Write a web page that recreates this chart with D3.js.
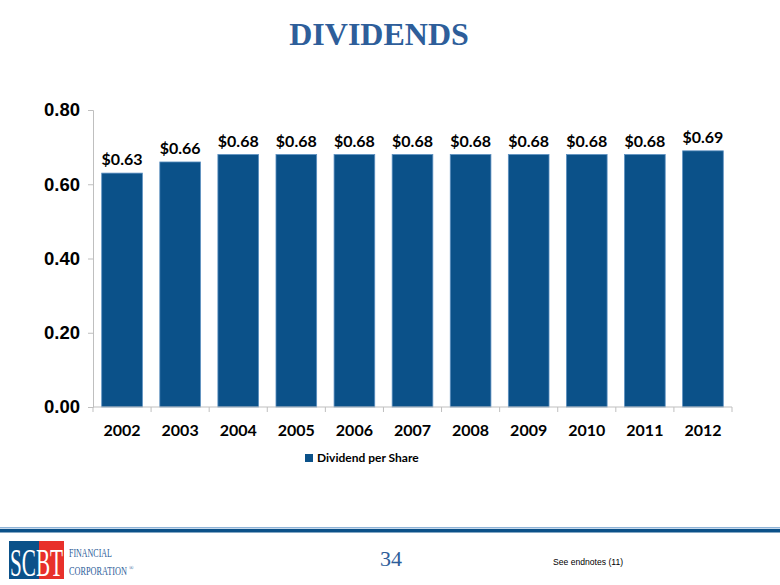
<!DOCTYPE html>
<html><head><meta charset="utf-8">
<script src="https://cdn.jsdelivr.net/npm/d3@7"></script>
<style>body{margin:0;background:#fff}svg{display:block}</style>
</head><body><svg id="c" width="780" height="585"></svg>
<script>
const years = ["2002","2003","2004","2005","2006","2007","2008","2009","2010","2011","2012"];
const dividends = [0.63,0.66,0.68,0.68,0.68,0.68,0.68,0.68,0.68,0.68,0.69];
const yTicks = [0,0.2,0.4,0.6,0.8];
const seriesName = "Dividend per Share";

const svg = d3.select("#c");
const barColor = "#0B5189";
const x = d3.scaleBand().domain(years).range([93,732]).paddingInner(0.3).paddingOuter(0.15);
const y = d3.scaleLinear().domain([0,0.8]).range([407,110]);

svg.append("text").attr("x",379).attr("y",45).attr("text-anchor","middle")
  .attr("font-family","Liberation Serif, serif").attr("font-weight","bold").attr("font-size",32)
  .attr("fill","#2E5E9A").text("DIVIDENDS");

// y axis
const ya = svg.append("g").attr("transform","translate(93,0)")
  .call(d3.axisLeft(y).tickValues(yTicks).tickFormat(d3.format(".2f")).tickSize(5).tickPadding(8));
ya.selectAll("path,line").attr("stroke","#bfbfbf");
ya.selectAll("text").attr("font-family","Liberation Sans, Arial").attr("font-weight","bold").attr("font-size",18.5).attr("fill","#000");

// bars
svg.selectAll("rect.bar").data(dividends).join("rect").attr("class","bar")
  .attr("x",(d,i)=>x(years[i])).attr("width",x.bandwidth())
  .attr("y",d=>y(d)).attr("height",d=>y(0)-y(d))
  .attr("fill",barColor).attr("stroke","#5b8fc0").attr("stroke-width",0.8);

svg.selectAll("text.lbl").data(dividends).join("text").attr("class","lbl")
  .attr("x",(d,i)=>x(years[i])+x.bandwidth()/2).attr("y",d=>y(d)-8)
  .attr("text-anchor","middle").attr("font-family","Lato, sans-serif").attr("font-weight","bold")
  .attr("font-size",16).attr("fill","#000").text(d=>"$"+d.toFixed(2));

// x axis
const xa = svg.append("g").attr("transform","translate(0,407)");
xa.append("line").attr("x1",93).attr("x2",732).attr("stroke","#bfbfbf");
const bounds = d3.range(years.length+1).map(i=>93+i*(639/years.length));
xa.selectAll("line.t").data(bounds).join("line").attr("class","t")
  .attr("x1",d=>d).attr("x2",d=>d).attr("y1",0).attr("y2",5).attr("stroke","#bfbfbf");
xa.selectAll("text").data(years).join("text")
  .attr("x",d=>x(d)+x.bandwidth()/2).attr("y",29).attr("text-anchor","middle")
  .attr("font-family","Lato, sans-serif").attr("font-weight","bold").attr("font-size",16).attr("fill","#000").text(d=>d);

// legend
svg.append("rect").attr("x",305).attr("y",454).attr("width",8).attr("height",8).attr("fill",barColor);
svg.append("text").attr("x",317).attr("y",462).attr("font-family","Lato, sans-serif").attr("font-weight","bold")
  .attr("font-size",12).attr("fill","#000").text(seriesName);

// footer
svg.append("rect").attr("x",0).attr("y",527).attr("width",780).attr("height",1.5).attr("fill","#8fb4d8");
svg.append("rect").attr("x",0).attr("y",529).attr("width",780).attr("height",3.5).attr("fill","#0B5189");

// logo
const lg = svg.append("g");
lg.append("rect").attr("x",9).attr("y",541).attr("width",30).attr("height",38).attr("fill","#0B5189");
lg.append("rect").attr("x",39).attr("y",541).attr("width",25).attr("height",38).attr("fill","#E8302A");
function squeezed(str, x0, y0, size, target, fill){
  const t = lg.append("text").attr("font-family","Liberation Serif, serif").attr("font-size",size)
    .attr("fill",fill).text(str);
  const w = t.node().getComputedTextLength() || target;
  t.attr("transform",`translate(${x0},${y0}) scale(${target/w},1)`);
  return t;
}
squeezed("SCBT",10,576,40,53,"#fff");
squeezed("FINANCIAL",69,557,13,43,"#2E5E9A");
squeezed("CORPORATION",69,575,13,58,"#2E5E9A");
lg.append("text").attr("x",129).attr("y",570).attr("font-family","Liberation Serif, serif")
  .attr("font-size",6).attr("fill","#2E5E9A").text("®");

svg.append("text").attr("x",391).attr("y",566).attr("text-anchor","middle").attr("font-family","Liberation Serif, serif")
  .attr("font-size",22).attr("fill","#2E5E9A").text("34");
svg.append("text").attr("x",553).attr("y",565).attr("font-family","Liberation Sans, Arial")
  .attr("font-size",8.6).attr("fill","#000").text("See endnotes (11)");
</script></body></html>
